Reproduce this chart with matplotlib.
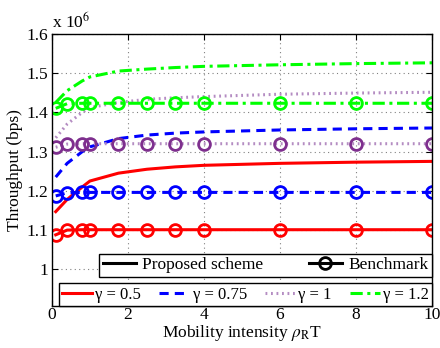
import numpy as np
import matplotlib
matplotlib.use('Agg')
import matplotlib.pyplot as plt
from matplotlib.lines import Line2D

plt.rcParams['font.family'] = ['Liberation Serif', 'DejaVu Serif']
plt.rcParams['mathtext.fontset'] = 'stix'
plt.rcParams['font.size'] = 12.5

# mobility intensity samples
x = [0.1, 0.4, 0.8, 1, 1.75, 2.5, 3.25, 4, 6, 8, 10]

# proposed scheme throughput (x 1e6 bps)
prop_05 = [1.147, 1.178, 1.210, 1.225, 1.245, 1.255, 1.261, 1.265, 1.270, 1.273, 1.275]
prop_075 = [1.235, 1.270, 1.300, 1.312, 1.333, 1.342, 1.347, 1.350, 1.355, 1.358, 1.360]
prop_1 = [1.335, 1.370, 1.400, 1.412, 1.425, 1.433, 1.437, 1.440, 1.446, 1.449, 1.451]
prop_12 = [1.425, 1.455, 1.480, 1.490, 1.505, 1.510, 1.514, 1.517, 1.521, 1.524, 1.526]

# benchmark throughput (x 1e6 bps)
bench_05 = [1.088, 1.100, 1.101, 1.101, 1.101, 1.101, 1.101, 1.101, 1.101, 1.101, 1.101]
bench_075 = [1.187, 1.195, 1.196, 1.196, 1.196, 1.196, 1.196, 1.196, 1.196, 1.196, 1.196]
bench_1 = [1.311, 1.319, 1.320, 1.320, 1.320, 1.320, 1.320, 1.320, 1.320, 1.320, 1.320]
bench_12 = [1.410, 1.422, 1.423, 1.423, 1.423, 1.423, 1.423, 1.423, 1.423, 1.423, 1.423]

gamma_labels = ['γ = 0.5', 'γ = 0.75', 'γ = 1', 'γ = 1.2']
yticks = [1, 1.1, 1.2, 1.3, 1.4, 1.5, 1.6]
ytick_labels = ['1', '1.1', '1.2', '1.3', '1.4', '1.5', '1.6']
xticks = [0, 2, 4, 6, 8, 10]

red = '#ff0000'
blue = '#0000ff'
purple_line = '#b48cc2'
purple_mk = '#7e2f8e'
green = '#00ff00'

fig = plt.figure(figsize=(4.4, 3.48), dpi=100)
ax = fig.add_axes([0.118, 0.121, 0.864, 0.782])

lw = 2.2
ms = 8.5
mew = 2.0
dash = (0, (3, 2))
dot = (0, (0.6, 1.2))
dashdot = (0, (4, 1.5, 1, 1.5))

ax.plot(x, prop_05, color=red, ls='-', lw=lw)
ax.plot(x, prop_075, color=blue, ls=dash, lw=lw)
ax.plot(x, prop_1, color=purple_line, ls=dot, lw=lw)
ax.plot(x, prop_12, color=green, ls=dashdot, lw=lw)

ax.plot(x, bench_05, color=red, ls='-', lw=lw, marker='o', ms=ms, mfc='none', mew=mew)
ax.plot(x, bench_075, color=blue, ls=dash, lw=lw, marker='o', ms=ms, mfc='none', mew=mew)
ax.plot(x, bench_1, color=purple_line, ls=dot, lw=lw)
ax.plot(x, bench_1, color=purple_mk, ls='none', marker='o', ms=ms, mfc='none', mew=mew)
ax.plot(x, bench_12, color=green, ls=dashdot, lw=lw, marker='o', ms=ms, mfc='none', mew=mew)

ax.set_xlim(0, 10)
ax.set_ylim(0.907, 1.6)
ax.set_xticks(xticks)
ax.set_xticklabels([str(t) for t in xticks])
ax.set_yticks(yticks)
ax.set_yticklabels(ytick_labels)
ax.tick_params(direction='in', top=True, right=True, length=4)
ax.tick_params(axis='x', pad=1)
ax.tick_params(axis='y', pad=3)
ax.grid(True, ls=(0, (1, 3)), color='#808080', lw=0.8)
for s in ax.spines.values():
    s.set_linewidth(1.0)

ax.set_xlabel(r'Mobility intensity $\rho_{\mathrm{R}}$T', labelpad=0)
ax.set_ylabel('Throughput (bps)', labelpad=2)
ax.text(0.0, 1.008, r'x 10$^6$', transform=ax.transAxes, ha='left', va='bottom')

h1 = [Line2D([], [], color='k', lw=lw),
      Line2D([], [], color='k', lw=lw, marker='o', ms=ms, mfc='none', mew=mew)]
leg1 = ax.legend(h1, ['Proposed scheme', 'Benchmark'], ncol=2, loc='lower left',
                 bbox_to_anchor=(0.124, 0.1065, 0.876, 0.1), mode='expand',
                 borderaxespad=0, fancybox=False, edgecolor='k', framealpha=1,
                 handlelength=1.9, handletextpad=0.4, columnspacing=1.0,
                 borderpad=0.2)
leg1.get_frame().set_linewidth(1.0)
ax.add_artist(leg1)

h2 = [Line2D([], [], color=red, lw=lw),
      Line2D([], [], color=blue, lw=lw, ls=dash),
      Line2D([], [], color=purple_line, lw=lw, ls=dot),
      Line2D([], [], color=green, lw=lw, ls=dashdot)]
leg2 = ax.legend(h2, gamma_labels, ncol=4, loc='lower left',
                 bbox_to_anchor=(0.018, 0.0, 0.982, 0.1), mode='expand',
                 borderaxespad=0, fancybox=False, edgecolor='k', framealpha=1,
                 handlelength=1.8, handletextpad=0.2, columnspacing=0.4,
                 borderpad=0.2, prop={'size': 12})
leg2.get_frame().set_linewidth(1.0)

fig.savefig('out.png', dpi=100)
